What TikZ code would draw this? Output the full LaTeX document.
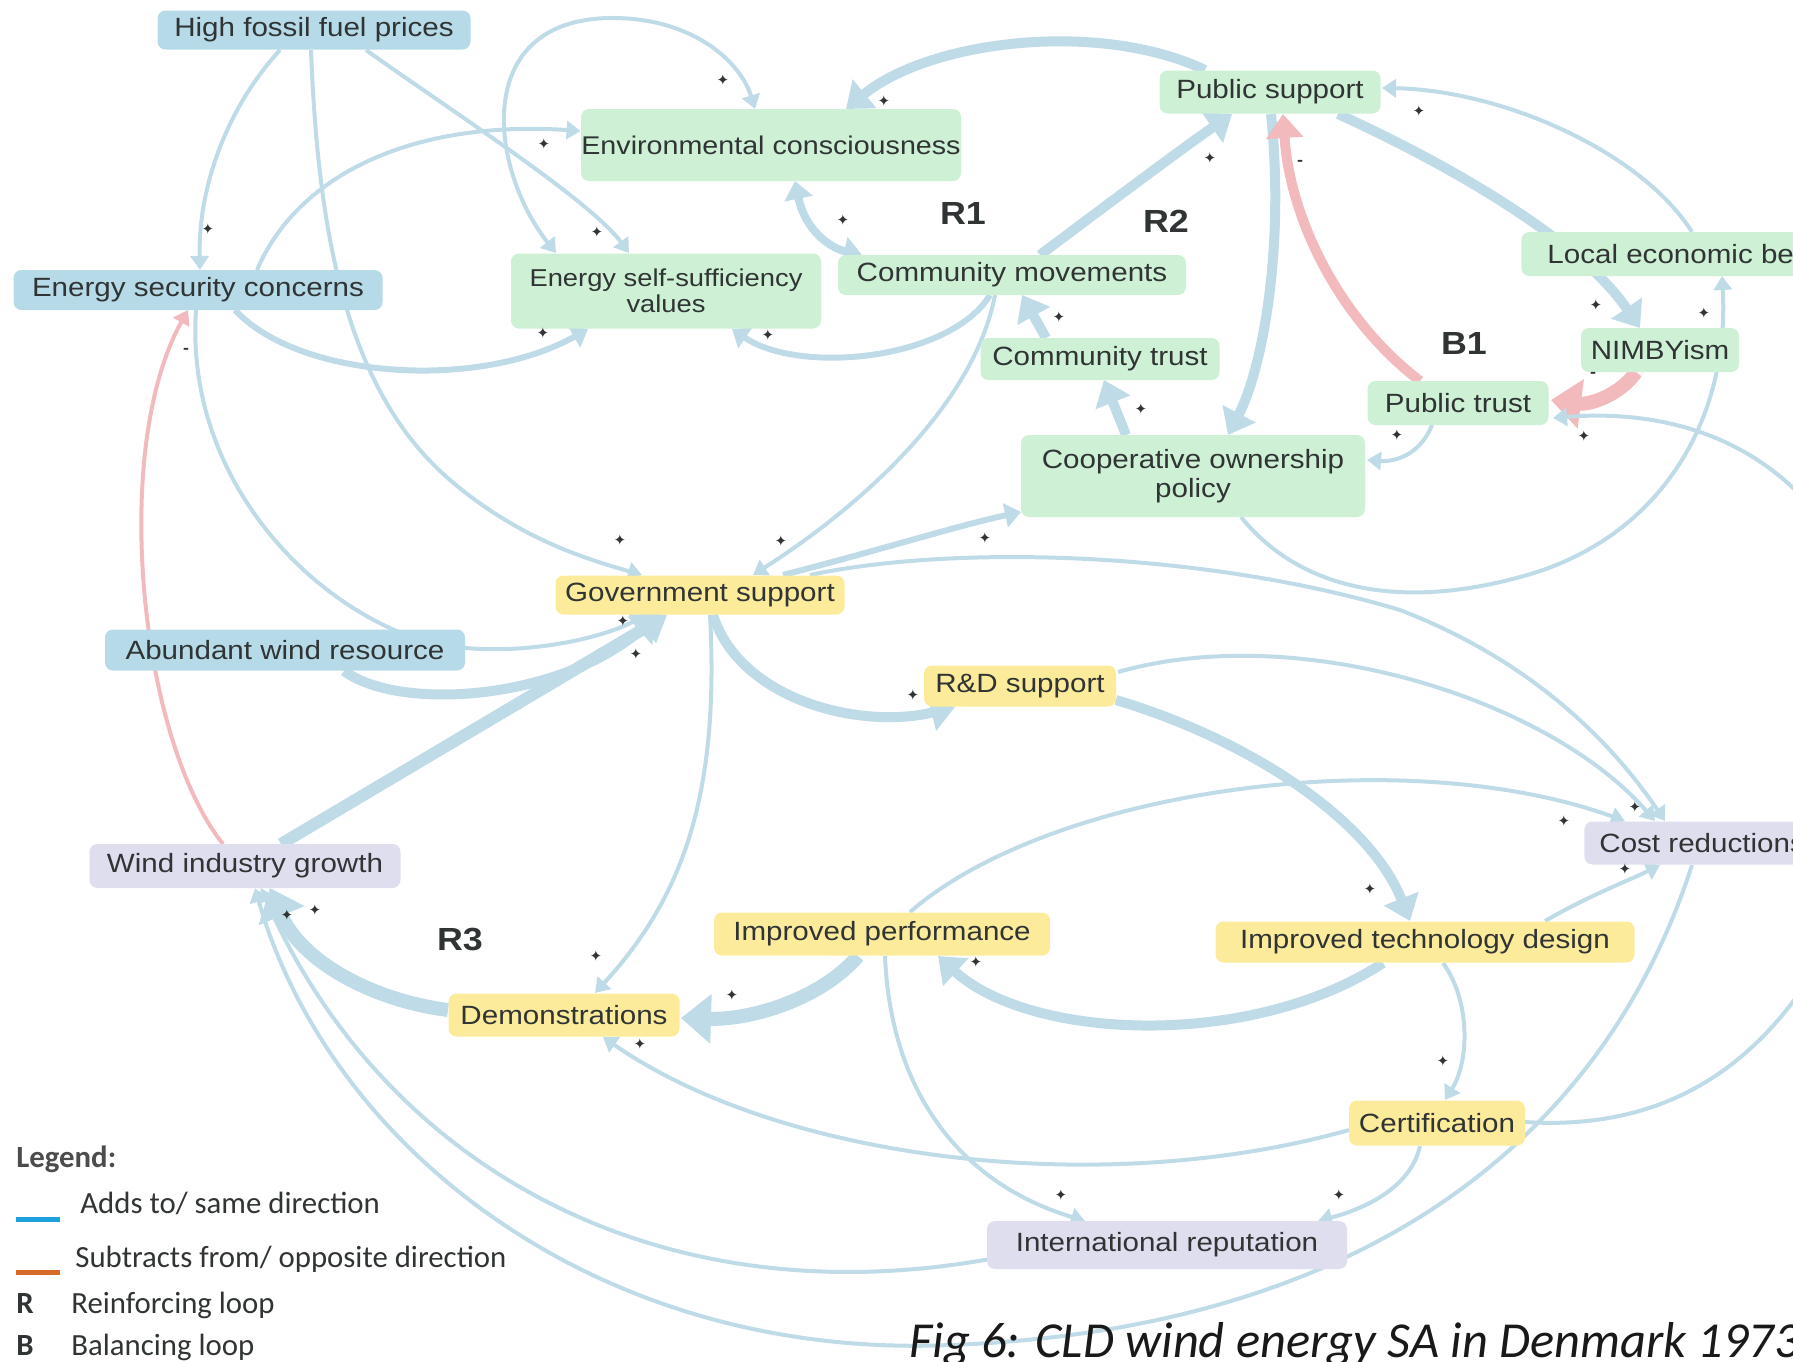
\documentclass[tikz,border=0pt]{standalone}
\usepackage{fontspec}
\usetikzlibrary{arrows.meta,calc}
\newfontfamily\nodefont[FakeStretch=1.12]{Liberation Sans}
\newfontfamily\legfont{Carlito}
\newfontfamily\symfont{DejaVu Sans}
\definecolor{edgeblue}{RGB}{190,219,231}
\definecolor{edgepink}{RGB}{243,186,190}
\definecolor{fillblue}{RGB}{182,218,232}
\definecolor{fillgreen}{RGB}{206,240,213}
\definecolor{fillyellow}{RGB}{251,235,155}
\definecolor{fillpurple}{RGB}{222,222,238}
\definecolor{txt}{RGB}{48,52,52}
\definecolor{legblue}{RGB}{30,162,222}
\definecolor{legorange}{RGB}{214,106,42}
\pgfdeclarelayer{links}
\pgfsetlayers{links,main}
\tikzset{
  box/.style={rounded corners=4pt, inner sep=0pt, align=center, text=txt,
    font=\nodefont\fontsize{13.2pt}{14.3pt}\selectfont},
  bluebox/.style={box, fill=fillblue},
  greenbox/.style={box, fill=fillgreen},
  yellowbox/.style={box, fill=fillyellow},
  purplebox/.style={box, fill=fillpurple},
  lnk/.style={draw=edgeblue, line width=2pt, -{Triangle[length=7pt,width=9pt]}},
  lnkm/.style={draw=edgeblue, line width=3pt, -{Triangle[length=8pt,width=12pt]}},
  lnkt/.style={draw=edgeblue, line width=5pt, -{Triangle[length=12pt,width=18pt]}},
  lnkx/.style={draw=edgeblue, line width=7pt, -{Triangle[length=15pt,width=24pt]}},
  lnkb/.style={draw=edgeblue, line width=2pt,
    {Triangle[length=7pt,width=9pt]}-{Triangle[length=7pt,width=9pt]}},
  lnktb/.style={draw=edgeblue, line width=4pt,
    {Triangle[length=9pt,width=14pt]}-{Triangle[length=9pt,width=14pt]}},
  plain/.style={draw=edgeblue, line width=2pt},
  pm/.style={font=\symfont\fontsize{7.5pt}{7.5pt}\selectfont, text=txt, inner sep=0pt},
  mn/.style={font=\nodefont\bfseries\fontsize{8pt}{8pt}\selectfont, text=txt, inner sep=0pt},
  looplbl/.style={font=\nodefont\bfseries\fontsize{16pt}{16pt}\selectfont, text=txt, inner sep=0pt},
  legtxt/.style={font=\legfont\fontsize{15.4pt}{16pt}\selectfont, text=txt, inner sep=0pt, anchor=base west},
}
\begin{document}
\begin{tikzpicture}[x=0.5pt, y=-0.5pt]
\useasboundingbox (0,0) rectangle (1793,1361);
\clip (0,0) rectangle (1793,1361);

% ---------- variables ----------
\node[bluebox, minimum width=156.5pt, minimum height=19.5pt] (hfp) at (314,30) {High fossil fuel prices};
\node[greenbox, minimum width=190pt, minimum height=36pt,
      font=\nodefont\fontsize{12.8pt}{14pt}\selectfont] (ec) at (771,145) {Environmental consciousness};
\node[greenbox, minimum width=110.5pt, minimum height=21.5pt] (ps) at (1270,92) {Public support};
\node[bluebox, minimum width=184.5pt, minimum height=20pt] (esc) at (198,290) {Energy security concerns};
\node[greenbox, minimum width=155pt, minimum height=37.5pt,
      font=\nodefont\fontsize{12.2pt}{13pt}\selectfont] (esv) at (666,291) {Energy self-sufficiency\\values};
\node[greenbox, minimum width=174pt, minimum height=20pt] (cm) at (1012,275) {Community movements};
\node[greenbox, minimum height=22pt, inner xsep=13pt, anchor=west] (leb) at (1521,254) {Local economic benefits};
\node[greenbox, minimum width=79pt, minimum height=22pt] (nimby) at (1660,350) {NIMBYism};
\node[greenbox, minimum width=119.5pt, minimum height=21pt] (ct) at (1100,359) {Community trust};
\node[greenbox, minimum width=90.5pt, minimum height=22pt] (pt) at (1458,403) {Public trust};
\node[greenbox, minimum width=172pt, minimum height=41pt] (cop) at (1193,476) {Cooperative ownership\\policy};
\node[yellowbox, minimum width=144.5pt, minimum height=19.5pt] (gov) at (700,595) {Government support};
\node[bluebox, minimum width=180pt, minimum height=20.5pt] (awr) at (285,650) {Abundant wind resource};
\node[yellowbox, minimum width=96pt, minimum height=20.5pt] (rd) at (1020,686) {R\&D support};
\node[purplebox, minimum height=21.5pt, inner xsep=7.5pt, anchor=west] (cr) at (1584,843) {Cost reductions};
\node[purplebox, minimum width=155.5pt, minimum height=22pt] (wig) at (245,866) {Wind industry growth};
\node[yellowbox, minimum width=168pt, minimum height=21.5pt] (ip) at (882,934) {Improved performance};
\node[yellowbox, minimum width=209.5pt, minimum height=20.5pt] (itd) at (1425,942) {Improved technology design};
\node[yellowbox, minimum width=115.5pt, minimum height=21.5pt] (demo) at (564,1015) {Demonstrations};
\node[yellowbox, minimum width=88pt, minimum height=22.5pt] (cert) at (1437,1123) {Certification};
\node[purplebox, minimum width=180pt, minimum height=24pt] (ir) at (1167,1245) {International reputation};

\coordinate (rin) at (1805,500);
\coordinate (rout) at (1805,985);

% ---------- causal links (behind the boxes) ----------
\begin{pgfonlayer}{links}
\clip (0,0) rectangle (1793,1361);
\draw[lnk] ($(hfp)+(-34,20)$) .. controls (225,110) and (198,190) .. ($(esc)+(2,-20)$);
\draw[lnk] ($(hfp)+(-3,20)$) .. controls (318,230) and (345,390) .. (450,480)
           .. controls (520,540) and (590,560) .. ($(gov)+(-58,-20)$);
\draw[lnk] ($(hfp)+(52,20)$) .. controls (450,110) and (590,200) .. ($(esv)+(-37,-38)$);
\draw[lnk] ($(esc)+(59,-20)$) .. controls (300,170) and (420,120) .. ($(ec.west)+(0,-14)$);
\draw[lnkm] ($(esc)+(37,20)$) .. controls (300,380) and (480,390) .. ($(esv)+(-78,38)$);
\draw[lnk] ($(esc)+(-2,20)$) .. controls (185,470) and (300,600) .. (420,640)
           .. controls (500,662) and (600,640) .. ($(gov)+(-55,20)$);
\draw[lnkt] ($(awr)+(59,21)$) .. controls (400,712) and (560,700) .. ($(gov)+(-42,20)$);
\draw[lnkt, line width=6pt] ($(wig)+(36,-22)$) -- ($(gov)+(-33,20)$);
\draw[lnkb] ($(esv)+(-110,-38)$) .. controls (490,170) and (470,20) .. (610,18)
            .. controls (690,17) and (740,60) .. ($(ec)+(-16,-36)$);
\draw[lnkt] ($(ps)+(-65,-22)$) .. controls (1100,20) and (930,40) .. ($(ec)+(75,-36)$);
\draw[lnktb] ($(ec)+(24,36)$) .. controls (805,230) and (830,248) .. ($(cm)+(-150,-20)$);
\draw[lnkt] ($(cm)+(28,-20)$) .. controls (1100,210) and (1180,150) .. ($(ps)+(-38,22)$);
\draw[lnkm] ($(cm)+(-22,20)$) .. controls (950,360) and (800,375) .. ($(esv)+(66,38)$);
\draw[lnkt] ($(ct)+(-54,-21)$) -- ($(cm)+(10,20)$);
\draw[lnkt] ($(cop)+(-67,-41)$) -- ($(ct)+(4,21)$);
\draw[lnkt] ($(ps)+(1,22)$) .. controls (1285,250) and (1262,370) .. ($(cop)+(35,-41)$);
\draw[lnkt, draw=edgepink] ($(pt)+(-38,-22)$) .. controls (1340,320) and (1290,220) .. ($(ps)+(13,22)$);
\draw[lnkt] ($(ps)+(68,22)$) .. controls (1450,165) and (1580,240) .. ($(nimby)+(-20,-22)$);
\draw[lnk] ($(leb.west)+(171,-22)$) .. controls (1640,150) and (1500,90) .. ($(ps)+(112,-4)$);
\draw[lnk] ($(cop)+(48,41)$) .. controls (1300,590) and (1400,610) .. (1520,577)
           .. controls (1660,540) and (1730,420) .. ($(leb.west)+(201,22)$);
\draw[lnkx, draw=edgepink] ($(nimby)+(-24,22)$) .. controls (1620,395) and (1590,405) .. ($(pt)+(93,-3)$);
\draw[lnk] ($(pt)+(-26,22)$) .. controls (1420,455) and (1395,462) .. ($(cop)+(174,-16)$);
\draw[lnk] (rin) .. controls (1740,430) and (1650,410) .. ($(pt)+(95,15)$);
\draw[lnkm] ($(gov)+(83,-20)$) .. controls (880,550) and (960,525) .. ($(cop)+(-172,36)$);
\draw[lnk] ($(cm)+(-17,20)$) .. controls (975,400) and (870,500) .. ($(gov)+(53,-20)$);
\draw[lnk] ($(gov)+(110,-20)$) .. controls (950,545) and (1200,550) .. (1400,610)
           .. controls (1530,660) and (1610,740) .. ($(cr.west)+(81,-22)$);
\draw[lnkt] ($(gov)+(13,20)$) .. controls (740,700) and (860,730) .. ($(rd)+(-65,21)$);
\draw[lnk] ($(gov)+(10,20)$) .. controls (720,800) and (680,900) .. ($(demo)+(31,-22)$);
\draw[lnkt] ($(rd)+(96,14)$) .. controls (1250,740) and (1370,820) .. ($(itd)+(-15,-21)$);
\draw[lnk] ($(rd)+(98,-14)$) .. controls (1300,620) and (1550,700) .. ($(cr.west)+(71,-22)$);
\draw[lnk] ($(ip)+(28,-22)$) .. controls (1050,790) and (1400,740) .. ($(cr.west)+(41,-22)$);
\draw[lnk] ($(itd)+(120,-21)$) .. controls (1590,895) and (1630,880) .. ($(cr.west)+(76,22)$);
\draw[lnkt] ($(itd)+(-42,21)$) .. controls (1250,1050) and (1030,1040) .. ($(ip)+(56,22)$);
\draw[lnkx] ($(ip)+(-24,22)$) .. controls (820,1000) and (750,1020) .. ($(demo)+(117,3)$);
\draw[lnkx] ($(demo)+(-116,-5)$) .. controls (370,1000) and (300,960) .. ($(wig)+(25,22)$);
\draw[lnk] ($(itd)+(18,21)$) .. controls (1470,1000) and (1470,1060) .. ($(cert)+(8,-23)$);
\draw[lnk] ($(ip)+(3,22)$) .. controls (890,1080) and (950,1180) .. ($(ir)+(-82,-24)$);
\draw[lnk] ($(cert)+(-17,23)$) .. controls (1410,1190) and (1360,1210) .. ($(ir)+(151,-24)$);
\draw[lnk] ($(cert)+(-88,7)$) .. controls (1100,1200) and (780,1160) .. ($(demo)+(39,22)$);
\draw[plain] ($(cert)+(88,-1)$) .. controls (1650,1130) and (1740,1080) .. (rout);
\draw[lnk] ($(cr.west)+(108,22)$) .. controls (1600,1150) and (1350,1330) .. (950,1345)
           .. controls (600,1360) and (330,1150) .. ($(wig)+(10,22)$);
\draw[lnk] ($(ir)+(-177,14)$) .. controls (650,1320) and (380,1160) .. ($(wig)+(16,22)$);
\draw[lnk, draw=edgepink] ($(wig)+(-22,-22)$) .. controls (140,740) and (110,450) .. ($(esc)+(-10,20)$);
\end{pgfonlayer}

% ---------- polarity marks ----------
\node[pm] (p1) at (208,229) {✦};
\node[pm] (p2) at (544,144) {✦};
\node[pm] (p3) at (597,232) {✦};
\node[pm] (p4) at (723,80) {✦};
\node[pm] (p5) at (884,101) {✦};
\node[pm] (p6) at (843,220) {✦};
\node[pm] (p7) at (1210,158) {✦};
\node[pm] (p8) at (1419,111) {✦};
\node[pm] (p9) at (1596,305) {✦};
\node[pm] (p10) at (1704,313) {✦};
\node[pm] (p11) at (1059,317) {✦};
\node[pm] (p12) at (1141,409) {✦};
\node[pm] (p13) at (1397,435) {✦};
\node[pm] (p14) at (1584,436) {✦};
\node[pm] (p15) at (543,333) {✦};
\node[pm] (p16) at (768,335) {✦};
\node[pm] (p17) at (620,540) {✦};
\node[pm] (p18) at (781,541) {✦};
\node[pm] (p19) at (985,538) {✦};
\node[pm] (p20) at (623,621) {✦};
\node[pm] (p21) at (636,654) {✦};
\node[pm] (p22) at (913,695) {✦};
\node[pm] (p23) at (1635,807) {✦};
\node[pm] (p24) at (1564,821) {✦};
\node[pm] (p25) at (1625,869) {✦};
\node[pm] (p26) at (1370,889) {✦};
\node[pm] (p27) at (287,915) {✦};
\node[pm] (p28) at (315,910) {✦};
\node[pm] (p29) at (596,956) {✦};
\node[pm] (p30) at (732,995) {✦};
\node[pm] (p31) at (640,1044) {✦};
\node[pm] (p32) at (976,962) {✦};
\node[pm] (p33) at (1443,1061) {✦};
\node[pm] (p34) at (1061,1195) {✦};
\node[pm] (p35) at (1339,1195) {✦};
\node[mn] (m1) at (1300,163) {-};
\node[mn] (m2) at (1593,375) {-};
\node[mn] (m3) at (186,351) {-};

% ---------- loop labels ----------
\node[looplbl] (lR1) at (963,213) {R1};
\node[looplbl] (lR2) at (1166,221) {R2};
\node[looplbl] (lB1) at (1464,343) {B1};
\node[looplbl] (lR3) at (460,939) {R3};

% ---------- legend ----------
\node[legtxt, font=\legfont\bfseries\fontsize{15.4pt}{16pt}\selectfont, text=black!70] (legtitle) at (16,1167) {Legend:};
\draw[legblue, line width=2.5pt] (16,1219) -- (60,1219);
\node[legtxt] (legadd) at (80,1213) {Adds to/ same direction};
\draw[legorange, line width=2.5pt] (16,1272) -- (60,1272);
\node[legtxt] (legsub) at (75,1267) {Subtracts from/ opposite direction};
\node[legtxt, font=\legfont\bfseries\fontsize{15.4pt}{16pt}\selectfont] (legR) at (16,1313) {R};
\node[legtxt] (legRtxt) at (71,1313) {Reinforcing loop};
\node[legtxt, font=\legfont\bfseries\fontsize{15.4pt}{16pt}\selectfont] (legB) at (16,1355) {B};
\node[legtxt] (legBtxt) at (71,1355) {Balancing loop};

% ---------- caption ----------
\node[inner sep=0pt, anchor=base west, text=black!90,
      font=\legfont\itshape\fontsize{25.2pt}{26pt}\selectfont] (cap) at (909,1357)
      {Fig 6: CLD wind energy SA in Denmark 1973};
\end{tikzpicture}
\end{document}
